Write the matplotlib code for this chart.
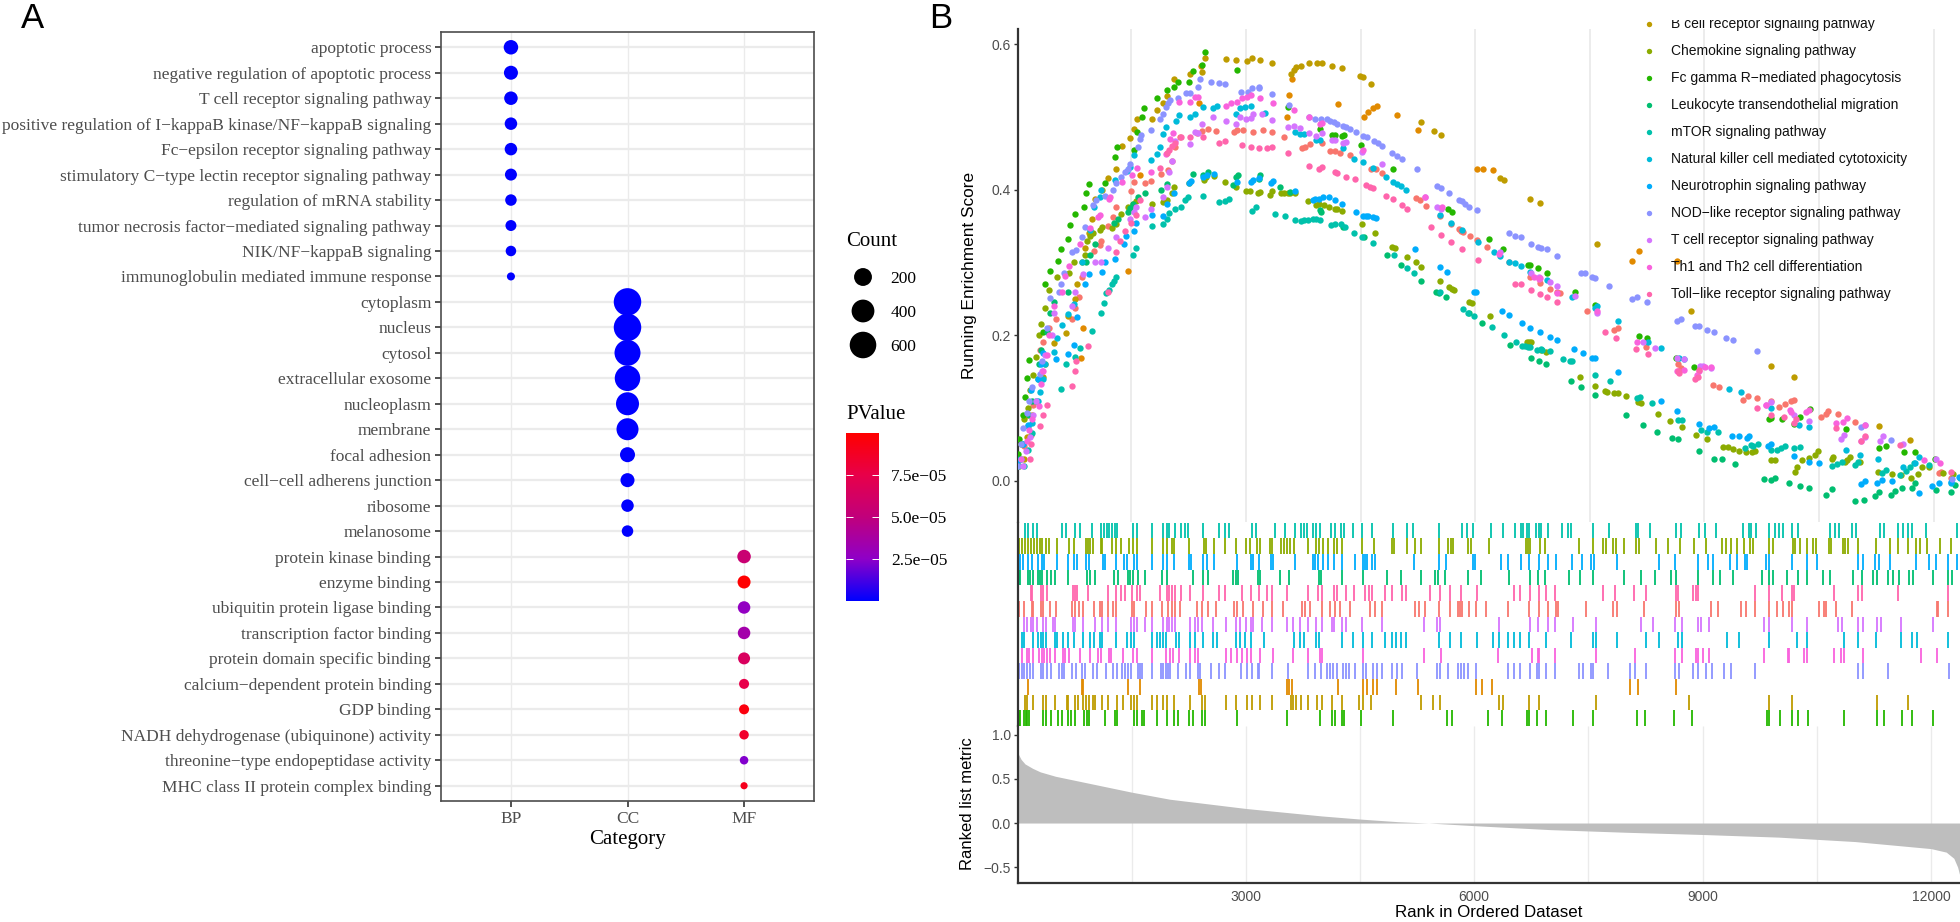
import matplotlib
matplotlib.use("Agg")
import matplotlib.pyplot as plt
import numpy as np
from matplotlib.colors import LinearSegmentedColormap

W, H = 1960, 922

# panel A: GO terms
go_terms = [
    "apoptotic process", "negative regulation of apoptotic process",
    "T cell receptor signaling pathway",
    "positive regulation of I−kappaB kinase/NF−kappaB signaling",
    "Fc−epsilon receptor signaling pathway",
    "stimulatory C−type lectin receptor signaling pathway",
    "regulation of mRNA stability",
    "tumor necrosis factor−mediated signaling pathway",
    "NIK/NF−kappaB signaling", "immunoglobulin mediated immune response",
    "cytoplasm", "nucleus", "cytosol", "extracellular exosome", "nucleoplasm",
    "membrane", "focal adhesion", "cell−cell adherens junction", "ribosome",
    "melanosome", "protein kinase binding", "enzyme binding",
    "ubiquitin protein ligase binding", "transcription factor binding",
    "protein domain specific binding", "calcium−dependent protein binding",
    "GDP binding", "NADH dehydrogenase (ubiquinone) activity",
    "threonine−type endopeptidase activity", "MHC class II protein complex binding",
]
go_category = ["BP"] * 10 + ["CC"] * 10 + ["MF"] * 10
categories = ["BP", "CC", "MF"]
go_count = [102, 91, 80, 60, 60, 51, 43, 35, 29, 6,
            655, 655, 567, 539, 410, 363, 115, 91, 60, 43,
            80, 69, 60, 60, 51, 23, 23, 17, 9, 2]
go_pvalue = [1e-7] * 20 + [5.5e-5, 1e-4, 2.7e-5, 3.5e-5, 6.5e-5,
                           7.5e-5, 9.5e-5, 8.5e-5, 2.3e-5, 9e-5]
count_breaks = [200, 400, 600]
pvalue_breaks = [2.5e-5, 5e-5, 7.5e-5]
pvalue_labels = ["2.5e−05", "5.0e−05", "7.5e−05"]

# panel B: (rank, running score) at each gene set hit
salmon_set = [(21,.02),(90,.047),(187,.062),(209,.104),(305,.179),(340,.19),(428,.21),(507,.222),(721,.222),(756,.237),(813,.252),(857,.28),(1006,.316),(1085,.324),(1106,.33),(1194,.35),(1260,.363),(1295,.377),(1500,.399),(1531,.411),(1684,.409),(1763,.412),(1894,.422),(1982,.427),(2026,.44),(2070,.459),(2135,.472),(2363,.478),(2420,.481),(2507,.484),(2608,.481),(2844,.479),(2879,.482),(2958,.482),(3098,.479),(3221,.482),(3339,.479),(3492,.472),(3733,.457),(3777,.459),(3843,.463),(3996,.464),(4105,.454),(4171,.453),(4237,.451),(4368,.448),(4630,.429),(4696,.428),(4784,.423),(5222,.389),(5274,.386),(5353,.378),(5541,.364),(5681,.353),(5791,.346),(5814,.344),(5836,.342),(5932,.337),(6024,.331),(6155,.322),(6444,.3),(6724,.28),(6847,.272),(6974,.264),(7070,.26),(7105,.258),(7464,.233),(7819,.207),(7871,.21),(8235,.184),(8651,.16),(8690,.155),(9110,.132),(9198,.129),(9504,.111),(9570,.116),(9684,.113),(9872,.11),(9982,.101),(10060,.105),(10139,.109),(10170,.111),(10529,.088),(10594,.092),(10621,.095),(10752,.091),(10967,.081),(12074,.011),(12096,.012),(12223,.004)]
orange_set = [(134,.09),(844,.168),(866,.21),(1457,.288),(1614,.42),(2389,.52),(2411,.57),(3536,.5),(3567,.53),(3602,.552),(4206,.518),(4543,.5),(4595,.507),(4665,.512),(4718,.515),(4972,.503),(5257,.483),(6019,.428),(6107,.428),(6230,.427),(8047,.302),(8147,.316),(8646,.302)]
b_cell = [(99,.03),(130,.06),(200,.09),(340,.142),(375,.16),(493,.189),(647,.203),(669,.227),(756,.25),(791,.27),(857,.3),(896,.32),(940,.34),(988,.36),(1019,.388),(1115,.4),(1194,.416),(1303,.428),(1382,.46),(1487,.471),(1531,.484),(1575,.497),(1767,.498),(1829,.51),(1908,.519),(1960,.529),(2061,.553),(2267,.559),(2420,.562),(2463,.581),(2735,.58),(2871,.578),(3011,.577),(3076,.581),(3186,.578),(3339,.574),(3593,.56),(3624,.565),(3659,.569),(3720,.571),(3821,.574),(3930,.574),(3996,.575),(4127,.571),(4258,.568),(4491,.556),(4534,.555),(4640,.546),(5296,.494),(5462,.481),(5550,.475),(6326,.416),(6374,.413),(6724,.388),(6847,.382),(7596,.326),(8826,.233),(9872,.157),(10170,.142),(11286,.075),(11693,.056)]
chemokine = [(25,.02),(56,.05),(99,.085),(143,.10),(174,.125),(218,.145),(253,.17),(296,.2),(318,.215),(375,.237),(419,.262),(524,.28),(682,.285),(747,.30),(896,.31),(922,.33),(953,.336),(997,.34),(1093,.345),(1115,.349),(1246,.348),(1295,.353),(1360,.367),(1461,.377),(1522,.381),(1566,.385),(1772,.38),(1908,.383),(1960,.386),(2026,.395),(2061,.404),(2258,.41),(2450,.414),(2472,.418),(2582,.419),(2726,.411),(2871,.404),(3002,.399),(3055,.399),(3151,.396),(3186,.397),(3317,.393),(3339,.399),(3457,.396),(3501,.396),(3545,.396),(3580,.396),(3637,.395),(3812,.385),(3917,.379),(3961,.38),(4018,.379),(4083,.377),(4162,.374),(4193,.374),(4258,.371),(4521,.353),(4688,.341),(4915,.322),(4946,.32),(5112,.308),(5222,.301),(5296,.294),(5537,.274),(5660,.266),(5691,.264),(5726,.262),(5914,.246),(5954,.244),(6199,.226),(6681,.19),(6711,.19),(6733,.19),(6864,.18),(6930,.177),(7377,.143),(7565,.13),(7696,.123),(7727,.122),(7819,.12),(7863,.12),(7972,.116),(8125,.108),(8165,.106),(8388,.092),(8550,.082),(8703,.073),(8891,.062),(9040,.057),(9250,.046),(9303,.046),(9369,.044),(9447,.041),(9544,.039),(9623,.039),(9666,.04),(9877,.028),(9920,.028),(10183,.012),(10214,.019),(10279,.028),(10367,.031),(10454,.035),(10485,.04),(10665,.03),(10682,.032),(10840,.026),(10870,.028),(10905,.032),(11037,.025),(11278,.012),(11461,.009),(11571,.008),(11702,.003),(11798,.009),(11855,.019),(11943,.018),(12118,.011),(12258,.009)]
fc_gamma = [(21,.037),(34,.057),(86,.09),(113,.115),(130,.141),(156,.166),(340,.205),(375,.271),(437,.288),(537,.302),(581,.319),(669,.333),(699,.351),(756,.367),(874,.377),(909,.395),(944,.408),(1150,.409),(1281,.445),(1312,.459),(1531,.455),(1575,.479),(1640,.5),(1662,.513),(1829,.526),(1960,.538),(2061,.542),(2113,.549),(2258,.549),(2310,.564),(2420,.572),(2463,.59),(2879,.565),(3545,.514),(3974,.484),(4127,.475),(4171,.475),(4258,.474),(4289,.475),(4508,.461),(4928,.428),(5638,.373),(5703,.37),(6186,.332),(6370,.319),(6689,.296),(6724,.296),(6821,.292),(6939,.285),(7302,.259),(7565,.242),(8143,.199),(8244,.196),(8629,.168),(8865,.156),(9850,.084),(9872,.086),(10017,.084),(10178,.078),(10249,.087),(10380,.099),(10857,.071),(11286,.045),(11382,.047),(11615,.039),(11755,.039),(12022,.029)]
leukocyte = [(21,.02),(34,.03),(143,.075),(165,.09),(200,.11),(274,.14),(296,.16),(318,.18),(393,.205),(437,.23),(493,.245),(669,.26),(909,.3),(953,.31),(1019,.325),(1268,.355),(1325,.36),(1457,.37),(1479,.375),(1522,.38),(1588,.39),(1675,.395),(1894,.4),(1969,.408),(2302,.422),(2442,.42),(2507,.425),(2836,.407),(2871,.418),(2901,.42),(3164,.415),(3186,.42),(3449,.404),(3571,.397),(3965,.372),(3987,.37),(4267,.349),(4543,.335),(4849,.31),(5034,.296),(5296,.275),(5484,.26),(5528,.258),(5616,.253),(5914,.23),(6085,.217),(6462,.187),(6733,.168),(6834,.164),(6930,.16),(7250,.137),(7390,.128),(7565,.118),(7968,.09),(8191,.076),(8375,.067),(8581,.058),(8651,.057),(8935,.04),(9132,.03),(9229,.029),(9404,.023),(9776,.002),(9877,.001),(9929,.003),(10104,-.004),(10249,-.008),(10367,-.011),(10586,-.02),(10673,-.012),(10971,-.028),(11089,-.027),(11234,-.021),(11286,-.016),(11440,-.02),(11497,-.014),(11584,-.01),(11715,-.01),(11759,-.003),(12030,-.013),(12227,-.016),(12280,-.006)]
mtor = [(95,.02),(143,.042),(200,.065),(253,.11),(581,.126),(638,.16),(760,.17),(822,.183),(979,.206),(1102,.23),(1137,.244),(1172,.258),(1207,.262),(1242,.27),(1277,.275),(1303,.28),(1522,.31),(1566,.32),(1767,.35),(1908,.353),(1969,.36),(1986,.368),(2070,.373),(2144,.377),(2201,.386),(2245,.39),(2442,.392),(2652,.383),(2731,.385),(2783,.388),(3076,.371),(3133,.377),(3383,.367),(3514,.364),(3646,.358),(3720,.357),(3764,.358),(3808,.358),(3878,.36),(3921,.36),(3974,.359),(4114,.351),(4171,.353),(4250,.353),(4294,.349),(4412,.341),(4521,.335),(4661,.327),(4937,.31),(5112,.292),(5200,.285),(5541,.26),(5844,.236),(5901,.23),(5989,.227),(6216,.211),(6374,.2),(6536,.19),(6615,.185),(6646,.185),(6698,.184),(6724,.184),(6812,.18),(6856,.181),(6873,.18),(6974,.178),(7149,.167),(7237,.164),(7267,.164),(7565,.145),(7771,.137),(8121,.113),(8152,.115),(8309,.106),(8651,.083),(8712,.083),(8953,.07),(9032,.067),(9176,.067),(9526,.045),(9614,.049),(9640,.047),(9701,.05),(9872,.042),(9951,.042),(10008,.045),(10060,.048),(10170,.045),(10249,.046),(10673,.02),(10739,.023),(10796,.026),(10967,.022),(11010,.026),(11330,.01),(11382,.014),(11562,.008),(11637,.013),(11693,.019),(11750,.024),(11934,.022),(12346,.004)]
nk_cell = [(56,.03),(86,.05),(200,.079),(274,.11),(305,.122),(340,.14),(375,.16),(493,.177),(524,.196),(594,.214),(669,.229),(747,.243),(857,.3),(953,.345),(1006,.377),(1085,.39),(1106,.4),(1290,.413),(1443,.426),(1487,.432),(1531,.448),(1763,.441),(1829,.449),(1872,.459),(1908,.477),(1951,.486),(2083,.495),(2122,.503),(2267,.5),(2332,.505),(2442,.514),(2573,.513),(2625,.516),(2871,.504),(2923,.513),(2989,.514),(3068,.515),(3243,.506),(3637,.479),(3711,.477),(3764,.477),(3921,.468),(3965,.468),(4267,.457),(4412,.443),(4534,.438),(4661,.43),(4827,.417),(4920,.411),(4972,.408),(5034,.405),(5099,.4),(5537,.365),(5681,.355),(5822,.345),(6041,.328),(6243,.314),(6326,.309),(6449,.301),(6523,.299),(6602,.295),(6724,.287),(6939,.276),(7272,.253),(7565,.237),(7596,.24),(7871,.219),(8257,.191),(8432,.182),(8673,.168),(8734,.167),(9316,.126),(9478,.122),(9872,.1),(10244,.077),(10367,.073),(10857,.042),(11037,.035),(11278,.03),(11601,.018),(11755,.024),(11812,.032),(12227,-.003)]
neurotrophin = [(34,.028),(78,.05),(143,.077),(187,.125),(274,.14),(318,.16),(349,.175),(515,.167),(669,.174),(747,.187),(787,.225),(896,.27),(940,.284),(1120,.287),(1150,.3),(1290,.305),(1404,.326),(1435,.336),(1531,.343),(1566,.354),(1767,.365),(1908,.364),(1960,.381),(2061,.396),(2258,.409),(2275,.412),(2442,.418),(2485,.42),(2582,.422),(2879,.411),(3063,.411),(3090,.413),(3177,.416),(3326,.41),(3352,.412),(3646,.399),(3878,.386),(3908,.387),(3952,.388),(4009,.39),(4083,.39),(4162,.386),(4258,.381),(4434,.369),(4534,.364),(4565,.364),(4595,.364),(4661,.362),(4696,.361),(5213,.319),(5537,.294),(5629,.287),(5989,.26),(6015,.259),(6352,.233),(6440,.228),(6615,.217),(6724,.21),(6851,.204),(6974,.198),(7070,.194),(7289,.181),(7412,.175),(7530,.169),(7574,.169),(7871,.149),(8427,.109),(8637,.096),(8935,.078),(9067,.072),(9132,.073),(9360,.061),(9456,.061),(9557,.058),(9579,.061),(9833,.048),(9877,.05),(10170,.034),(10367,.025),(10498,.024),(11045,-.005),(11102,0),(11264,-.004),(11321,.001),(11461,0),(11803,-.017),(11974,-.008),(12066,-.004),(12227,-.002),(12337,.005)]
nod_like = [(21,.02),(56,.05),(86,.072),(130,.093),(165,.11),(200,.128),(305,.146),(331,.164),(393,.21),(437,.251),(550,.259),(581,.27),(612,.285),(721,.315),(769,.317),(852,.335),(887,.349),(997,.379),(1041,.386),(1159,.392),(1260,.4),(1303,.409),(1369,.418),(1413,.425),(1457,.429),(1487,.435),(1588,.459),(1610,.47),(1632,.475),(1763,.482),(1881,.497),(1916,.505),(1947,.514),(1982,.519),(2004,.523),(2105,.526),(2214,.533),(2267,.533),(2376,.541),(2398,.553),(2538,.549),(2652,.547),(2726,.546),(2936,.535),(3020,.535),(3076,.54),(3164,.54),(3177,.541),(3339,.532),(3558,.517),(3821,.5),(3908,.497),(3983,.497),(4061,.497),(4105,.495),(4149,.494),(4193,.491),(4272,.488),(4315,.486),(4359,.484),(4434,.48),(4534,.474),(4578,.473),(4674,.467),(4727,.464),(4784,.46),(4915,.451),(4981,.446),(5047,.443),(5244,.428),(5506,.405),(5550,.403),(5659,.395),(5792,.386),(5822,.385),(5871,.381),(5923,.377),(6024,.372),(6449,.341),(6523,.337),(6602,.335),(6733,.325),(6821,.322),(6856,.32),(6939,.318),(7066,.309),(7381,.286),(7434,.285),(7530,.28),(7565,.279),(7753,.267),(8047,.25),(8112,.252),(8252,.245),(8637,.219),(8695,.222),(8878,.212),(8935,.212),(9040,.207),(9128,.204),(9285,.196),(9369,.194),(9688,.178),(11045,.074),(11102,.077),(11440,.056),(12236,.002)]
t_cell = [(86,.02),(121,.04),(174,.06),(209,.09),(253,.11),(331,.15),(375,.173),(463,.2),(493,.23),(725,.24),(756,.26),(866,.284),(1019,.3),(1106,.3),(1194,.32),(1295,.335),(1487,.36),(1531,.37),(1566,.377),(1675,.362),(1763,.374),(1916,.39),(1960,.404),(1995,.425),(2034,.44),(2070,.467),(2267,.463),(2332,.479),(2376,.478),(2420,.49),(2573,.5),(2735,.495),(2871,.491),(2923,.5),(3002,.497),(3063,.499),(3090,.504),(3208,.504),(3339,.496),(3545,.486),(3624,.488),(3711,.485),(3821,.478),(3921,.474),(3996,.478),(4127,.469),(4162,.469),(4267,.465),(4315,.466),(4521,.452),(4784,.436),(5344,.39),(5506,.377),(5550,.374),(6326,.315),(6733,.285),(6834,.28),(6974,.273),(7066,.267),(7302,.254),(7596,.23),(8191,.19),(8353,.182),(8637,.168),(8734,.167),(8944,.157),(8979,.158),(9089,.155),(9807,.104),(9872,.108),(10170,.09),(10376,.082),(10783,.057),(10827,.063),(11045,.055),(11102,.06),(11295,.055),(11339,.061),(11601,.05),(12030,.029)]
th1_th2 = [(56,.03),(130,.054),(156,.07),(200,.084),(288,.103),(318,.133),(349,.151),(393,.173),(428,.2),(493,.24),(594,.26),(625,.282),(682,.295),(822,.326),(953,.347),(1063,.363),(1093,.365),(1203,.388),(1225,.39),(1382,.411),(1514,.42),(1575,.43),(1763,.425),(1947,.449),(2004,.47),(2048,.478),(2127,.521),(2267,.521),(2332,.528),(2376,.528),(2735,.515),(2801,.519),(2879,.521),(2945,.526),(3011,.528),(3068,.53),(3186,.527),(3352,.52),(3624,.51),(3821,.5),(3974,.49),(3996,.492),(4534,.455),(5344,.39),(5563,.377),(6317,.312),(6764,.28),(6834,.277),(6851,.278),(7066,.258),(7596,.233),(8112,.191),(8637,.15),(8734,.152),(8909,.145),(8935,.15),(9010,.156),(9089,.156),(9811,.104),(10126,.097),(10139,.094),(10332,.094),(10376,.097),(10726,.079),(10818,.081),(10862,.086),(11102,.077),(11869,.028),(12083,.024)]
toll_like = [(174,.03),(191,.05),(305,.075),(340,.09),(393,.104),(725,.13),(756,.15),(778,.165),(931,.185),(1194,.26),(1295,.315),(1356,.33),(1413,.344),(1500,.355),(1566,.365),(1610,.386),(1872,.43),(1969,.45),(1995,.455),(2026,.46),(2070,.464),(2144,.473),(2267,.473),(2442,.472),(2652,.465),(2726,.467),(2945,.461),(3068,.459),(3173,.458),(3274,.457),(3339,.459),(3545,.45),(3821,.433),(3952,.428),(3996,.432),(4162,.424),(4193,.423),(4311,.418),(4425,.415),(4565,.406),(4622,.404),(4661,.403),(4827,.392),(4920,.387),(5047,.379),(5104,.374),(5419,.349),(5550,.338),(5682,.328),(5822,.319),(6041,.303),(6523,.271),(6602,.27),(6733,.262),(6847,.256),(6939,.252),(7066,.246),(7696,.204),(7845,.196),(8103,.181),(8257,.174),(8651,.15),(8673,.148),(8878,.14),(8913,.143),(8935,.152),(9688,.1),(9872,.09),(10047,.088),(10178,.079),(10205,.085),(10726,.072),(11045,.055),(11098,.061),(11562,.049),(12227,.012)]

rank_ticks = [3000, 6000, 9000, 12000]
minor_rank_ticks = [1500, 3000, 4500, 6000, 7500, 9000, 10500, 12000]

# ranked list metric
metric_rank = [1, 50, 100, 200, 300, 500, 1000, 1500, 2000, 3000, 4000, 4500, 5000, 5400,
               6000, 7000, 8000, 9000, 10000, 11000, 11500, 12000, 12200, 12300, 12350, 12380]
metric_value = [.80, .72, .67, .62, .58, .53, .44, .35, .27, .165, .08, .045, .015, 0,
                -.03, -.075, -.105, -.13, -.16, -.21, -.25, -.29, -.33, -.40, -.5, -.6]

legend_names = [
    "B cell receptor signaling pathway", "Chemokine signaling pathway",
    "Fc gamma R−mediated phagocytosis", "Leukocyte transendothelial migration",
    "mTOR signaling pathway", "Natural killer cell mediated cytotoxicity",
    "Neurotrophin signaling pathway", "NOD−like receptor signaling pathway",
    "T cell receptor signaling pathway", "Th1 and Th2 cell differentiation",
    "Toll−like receptor signaling pathway",
]

SERIF = "Liberation Serif"
SANS = "Liberation Sans"
GREY_TXT = "#4D4D4D"
GRID = "#EBEBEB"

# ggplot hue palette, 13 levels, alphabetical gene sets
palette = {
    "salmon": "#F8766D", "orange": "#E18A00", "bcell": "#BE9C00", "chemokine": "#8CAB00",
    "fc": "#24B700", "leuko": "#00BE70", "mtor": "#00C1AB", "nk": "#00BBDA",
    "neuro": "#00ACFC", "nod": "#8B93FF", "tcell": "#D575FE", "th1": "#F962DD", "toll": "#FF65AC",
}
draw_order = [
    ("salmon", salmon_set), ("orange", orange_set), ("bcell", b_cell), ("chemokine", chemokine),
    ("fc", fc_gamma), ("leuko", leukocyte), ("mtor", mtor), ("nk", nk_cell), ("neuro", neurotrophin),
    ("nod", nod_like), ("tcell", t_cell), ("th1", th1_th2), ("toll", toll_like),
]
row_order = ["mtor", "chemokine", "neuro", "leuko", "toll", "salmon", "tcell", "nk", "th1",
             "nod", "orange", "bcell", "fc"]


def add_axes_px(fig, left, top, right, bottom):
    return fig.add_axes([left / W, 1 - bottom / H, (right - left) / W, (bottom - top) / H])


def text_px(fig, x, y, s, **kw):
    fig.text(x / W, 1 - y / H, s, **kw)


def count_to_area(count):
    # area scale of the size legend, diameter in px -> scatter area in pt^2
    diameter = 6 + 0.84 * np.sqrt(np.asarray(count, dtype=float))
    return (diameter * 0.72) ** 2


fig = plt.figure(figsize=(W / 100, H / 100), dpi=100, facecolor="white")

pvalue_cmap = LinearSegmentedColormap.from_list(
    "blue_red_lab",
    [(0, "#0000FF"), (.25, "#8F00C8"), (.5, "#C1007C"), (.75, "#E8004A"), (1, "#FF0000")],
)

# --- panel A
ax = add_axes_px(fig, 441, 32, 814, 801)
xs = [categories.index(c) for c in go_category]
ys = np.arange(len(go_terms))
ax.set_axisbelow(True)
ax.hlines(ys, -0.6, 2.6, color=GRID, lw=1.6, zorder=0)
ax.vlines(range(3), -0.6, 29.6, color=GRID, lw=1.0, zorder=0)
ax.scatter(xs, ys, s=count_to_area(go_count), c=go_pvalue, cmap=pvalue_cmap, vmin=0, vmax=1e-4,
           linewidths=0, zorder=3)
ax.set_xlim(-0.6, 2.6)
ax.set_ylim(29.6, -0.6)
ax.set_yticks(ys, go_terms, fontfamily=SERIF, fontsize=12.55, color=GREY_TXT)
ax.set_xticks(range(3), categories, fontfamily=SERIF, fontsize=12.5, color=GREY_TXT)
ax.tick_params(axis="both", length=4, width=1.2, color="#333333", pad=3)
for spine in ax.spines.values():
    spine.set_color("#4D4D4D")
    spine.set_linewidth(1.2)
text_px(fig, 627, 839, "Category", family=SERIF, fontsize=15, ha="center", va="center")

# count legend
text_px(fig, 846, 241, "Count", family=SERIF, fontsize=15, ha="left", va="center")
lax = add_axes_px(fig, 846, 260, 880, 362)
lax.scatter([0.5] * 3, range(3), s=count_to_area(count_breaks), color="black", linewidths=0)
lax.set_xlim(0, 1)
lax.set_ylim(2.5, -0.5)
lax.set_xticks([])
lax.yaxis.tick_right()
lax.set_yticks(range(3), count_breaks, fontfamily=SERIF, fontsize=12.5)
lax.tick_params(axis="y", length=0, pad=7.5)
for spine in lax.spines.values():
    spine.set_visible(False)

# p value colour bar
text_px(fig, 846, 414, "PValue", family=SERIF, fontsize=15, ha="left", va="center")
cax = add_axes_px(fig, 846, 433, 879, 601)
gradient = np.linspace(1, 0, 256).reshape(-1, 1)
cax.imshow(gradient, cmap=pvalue_cmap, aspect="auto", extent=(0, 1, 0, 1e-4))
cax.set_xticks([])
cax.yaxis.tick_right()
cax.set_yticks(pvalue_breaks, pvalue_labels, fontfamily=SERIF, fontsize=12.5)
cax.tick_params(axis="y", length=0, pad=8.5)
for b in pvalue_breaks:
    cax.hlines(b, 0, 0.2, color="white", lw=0.7)
    cax.hlines(b, 0.8, 1, color="white", lw=0.7)
for spine in cax.spines.values():
    spine.set_visible(False)

# --- panel B, running score
top = add_axes_px(fig, 1018, 29, 1960, 522)
top.vlines(minor_rank_ticks, -0.06, 0.63, color=GRID, lw=1.3, zorder=0)
for key, pts in draw_order:
    arr = np.array(pts)
    top.scatter(arr[:, 0], arr[:, 1], s=21, color=palette[key], linewidths=0, zorder=3)
top.set_xlim(16, 12346)
top.set_ylim(-0.0571, 0.6213)
top.set_xticks([])
top.set_yticks([0, .2, .4, .6], ["0.0", "0.2", "0.4", "0.6"], fontfamily=SANS, fontsize=10, color=GREY_TXT)
top.tick_params(axis="y", length=3, width=1.0, color="#333333", pad=2)
for side in ("top", "right", "bottom"):
    top.spines[side].set_visible(False)
top.spines["left"].set_color("#333333")
top.spines["left"].set_linewidth(1.6)

# gene hit ticks
mid = add_axes_px(fig, 1018, 522.7, 1960, 726)
series_by_key = dict(draw_order)
for row, key in enumerate(row_order):
    ranks = np.array(series_by_key[key])[:, 0]
    mid.vlines(ranks, row, row + 1, color=palette[key], lw=1.3)
mid.set_xlim(8, 12381)
mid.set_ylim(13, 0)
mid.set_xticks([])
mid.set_yticks([])
for side in ("top", "right", "bottom"):
    mid.spines[side].set_visible(False)
mid.spines["left"].set_color("#333333")
mid.spines["left"].set_linewidth(1.6)

# ranked list metric
low = add_axes_px(fig, 1018, 726, 1960, 883)
low.vlines(minor_rank_ticks, -0.68, 1.1, color=GRID, lw=1.0, zorder=0)
low.fill_between(metric_rank, metric_value, 0, color="#BEBEBE", linewidth=0, zorder=2)
low.set_xlim(8, 12381)
low.set_ylim(-0.68, 1.1)
low.set_xticks(rank_ticks, [str(v) for v in rank_ticks], fontfamily=SANS, fontsize=10, color=GREY_TXT)
low.set_yticks([-.5, 0, .5, 1], ["−0.5", "0.0", "0.5", "1.0"], fontfamily=SANS, fontsize=10, color=GREY_TXT)
low.tick_params(axis="y", length=3, width=1.0, color="#333333", pad=2)
low.tick_params(axis="x", length=0, pad=5)
for side in ("top", "right"):
    low.spines[side].set_visible(False)
for side in ("left", "bottom"):
    low.spines[side].set_color("#333333")
    low.spines[side].set_linewidth(1.6)

text_px(fig, 969, 275, "Running Enrichment Score", family=SANS, fontsize=12.4, rotation=90, ha="center", va="center")
text_px(fig, 967, 804, "Ranked list metric", family=SANS, fontsize=12, rotation=90, ha="center", va="center")
text_px(fig, 1489, 912, "Rank in Ordered Dataset", family=SANS, fontsize=12.2, ha="center", va="center")

# pathway legend, clipped at the top like the source figure
leg = add_axes_px(fig, 1637, 20, 1960, 307.5)
leg.patch.set_visible(False)
legend_keys = ["bcell", "chemokine", "fc", "leuko", "mtor", "nk", "neuro", "nod", "tcell", "th1", "toll"]
for i, (key, name) in enumerate(zip(legend_keys, legend_names)):
    leg.scatter([0.036], [i], s=15, color=palette[key], linewidths=0)
    leg.text(0.105, i, name, family=SANS, fontsize=10, va="center", ha="left", clip_on=True, color="#111111")
leg.set_xlim(0, 1)
leg.set_ylim(10.5, -0.148)
leg.axis("off")

# panel letters
text_px(fig, 21, 28, "A", family=SANS, fontsize=25, ha="left", va="baseline")
text_px(fig, 929, 28, "B", family=SANS, fontsize=25, ha="left", va="baseline")

fig.savefig("out.png", dpi=100, facecolor="white")
